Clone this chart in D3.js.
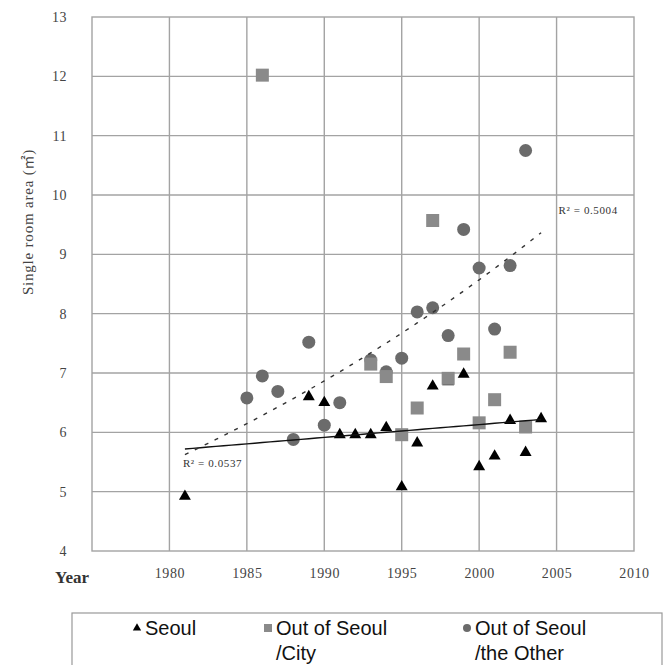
<!DOCTYPE html>
<html>
<head>
<meta charset="utf-8">
<script src="https://cdn.jsdelivr.net/npm/d3@7"></script>
<style>
  html, body { margin: 0; padding: 0; background: #fff; }
  svg { display: block; }
</style>
</head>
<body>
<svg id="chart" width="667" height="665"></svg>
<script>
// ---- Data ----
const seoulYears  = [1981, 1989, 1990, 1991, 1992, 1993, 1994, 1995, 1996, 1997, 1998, 1999, 2000, 2001, 2002, 2003, 2004];
const seoulValues = [4.92, 6.60, 6.50, 5.96, 5.96, 5.96, 6.08, 5.08, 5.82, 6.78, 6.85, 6.98, 5.42, 5.60, 6.20, 5.66, 6.23];

const cityYears   = [1986, 1993, 1994, 1995, 1996, 1997, 1998, 1999, 2000, 2001, 2002, 2003];
const cityValues  = [12.02, 7.15, 6.94, 5.96, 6.41, 9.57, 6.91, 7.32, 6.16, 6.55, 7.35, 6.09];

const otherYears  = [1985, 1986, 1987, 1988, 1989, 1990, 1991, 1993, 1994, 1995, 1996, 1997, 1998, 1999, 2000, 2001, 2002, 2003];
const otherValues = [6.58, 6.95, 6.69, 5.88, 7.52, 6.12, 6.50, 7.22, 7.02, 7.25, 8.03, 8.10, 7.63, 9.42, 8.77, 7.74, 8.81, 10.75];

const trendRange  = [1981, 2004];
const xTicks      = [1980, 1985, 1990, 1995, 2000, 2005, 2010];
const yTicks      = [4, 5, 6, 7, 8, 9, 10, 11, 12, 13];
const r2Labels    = ["R\u00b2 = 0.0537", "R\u00b2 = 0.5004"];
const legendLabels = [["Seoul"], ["Out of Seoul", "/City"], ["Out of Seoul", "/the Other"]];

// ---- Layout ----
const svg = d3.select("#chart");
const x = d3.scaleLinear().domain([1975, 2010]).range([92, 634]);
const y = d3.scaleLinear().domain([4, 13]).range([551, 17]);

const gridColor = "#a3a3a3";

// grid
const g = svg.append("g");
g.selectAll("line.v").data(xTicks.filter(d => d < 2010)).join("line")
  .attr("x1", d => x(d)).attr("x2", d => x(d))
  .attr("y1", y(4)).attr("y2", y(13))
  .attr("stroke", gridColor).attr("stroke-width", 1.4);
g.selectAll("line.h").data(yTicks.filter(d => d > 4 && d < 13)).join("line")
  .attr("x1", x(1975)).attr("x2", x(2010))
  .attr("y1", d => y(d)).attr("y2", d => y(d))
  .attr("stroke", gridColor).attr("stroke-width", 1.4);
g.append("rect")
  .attr("x", x(1975)).attr("y", y(13))
  .attr("width", x(2010) - x(1975)).attr("height", y(4) - y(13))
  .attr("fill", "none").attr("stroke", gridColor).attr("stroke-width", 1.4);

// axes (labels only)
const xAxis = d3.axisBottom(x).tickValues(xTicks).tickSize(0).tickPadding(0).tickFormat(d3.format("d"));
const xa = svg.append("g").attr("transform", `translate(0, ${y(4) + 27})`).call(xAxis);
xa.select(".domain").remove();
xa.selectAll("text").attr("font-family", "Liberation Serif, serif").attr("font-size", 14)
  .attr("fill", "#444").attr("letter-spacing", 0.6).attr("dy", "0");

const yAxis = d3.axisLeft(y).tickValues(yTicks).tickSize(0).tickPadding(0).tickFormat(d3.format("d"));
const ya = svg.append("g").attr("transform", `translate(${x(1975) - 25}, 0)`).call(yAxis);
ya.select(".domain").remove();
ya.selectAll("text").attr("font-family", "Liberation Serif, serif").attr("font-size", 14)
  .attr("fill", "#444").attr("letter-spacing", 0.5);

// axis titles
const yt = svg.append("text")
  .attr("transform", "translate(33, 222) rotate(-90)")
  .attr("text-anchor", "middle")
  .attr("font-family", "Liberation Serif, serif").attr("font-size", 15)
  .attr("fill", "#444").attr("letter-spacing", 0.8);
yt.append("tspan").text("Single room area (");
yt.append("tspan").attr("font-family", "Noto Sans CJK KR, sans-serif").attr("font-size", 14).text("\u33a1");
yt.append("tspan").text(")");
svg.append("text")
  .attr("x", 55).attr("y", 583)
  .attr("font-family", "Liberation Serif, serif").attr("font-size", 17)
  .attr("font-weight", "bold").attr("fill", "#333")
  .text("Year");

// ---- Trend lines ----
function linearFit(xs, ys) {
  const mx = d3.mean(xs), my = d3.mean(ys);
  let sxy = 0, sxx = 0;
  xs.forEach((xv, i) => { sxy += (xv - mx) * (ys[i] - my); sxx += (xv - mx) ** 2; });
  const b = sxy / sxx;
  return t => my + b * (t - mx);
}
function expFit(xs, ys) {
  const lf = linearFit(xs, ys.map(Math.log));
  return t => Math.exp(lf(t));
}
const seoulFit = linearFit(seoulYears, seoulValues);
const otherFit = expFit(otherYears, otherValues);
const trendYears = d3.range(trendRange[0], trendRange[1] + 0.01, 0.5);

const line = d3.line().x(d => x(d[0])).y(d => y(d[1]));

// ---- Markers ----
const pts = svg.append("g");
pts.selectAll("circle.other").data(otherYears.map((d, i) => [d, otherValues[i]])).join("circle")
  .attr("cx", d => x(d[0])).attr("cy", d => y(d[1])).attr("r", 6.5)
  .attr("fill", "#6b6b6b");
pts.selectAll("path.seoul").data(seoulYears.map((d, i) => [d, seoulValues[i]])).join("path")
  .attr("d", d3.symbol(d3.symbolTriangle, 62))
  .attr("transform", d => `translate(${x(d[0])}, ${y(d[1])})`)
  .attr("fill", "#000");
pts.selectAll("rect.city").data(cityYears.map((d, i) => [d, cityValues[i]])).join("rect")
  .attr("x", d => x(d[0]) - 6.5).attr("y", d => y(d[1]) - 6.5)
  .attr("width", 13).attr("height", 13)
  .attr("fill", "#8a8a8a");

svg.append("path")
  .datum(trendYears.map(t => [t, seoulFit(t)]))
  .attr("d", line).attr("fill", "none").attr("stroke", "#111").attr("stroke-width", 1.4);
svg.append("path")
  .datum(trendYears.map(t => [t, otherFit(t)]))
  .attr("d", line).attr("fill", "none").attr("stroke", "#333").attr("stroke-width", 1.4)
  .attr("stroke-dasharray", "4 7");

// R² labels
svg.append("text").attr("x", x(1981) - 2).attr("y", y(seoulFit(1981)) + 18)
  .attr("font-family", "Liberation Serif, serif").attr("font-size", 11)
  .attr("fill", "#333").attr("letter-spacing", 0.6).text(r2Labels[0]);
svg.append("text").attr("x", x(2005) + 2).attr("y", y(otherFit(2004)) - 19)
  .attr("font-family", "Liberation Serif, serif").attr("font-size", 11)
  .attr("fill", "#333").attr("letter-spacing", 0.6).text(r2Labels[1]);

// ---- Legend ----
const lg = svg.append("g");
lg.append("rect").attr("x", 72).attr("y", 613).attr("width", 590).attr("height", 60)
  .attr("fill", "#fff").attr("stroke", "#999").attr("stroke-width", 1.2);
const legendX = [137, 268, 467];
const legendY = 628;
lg.append("path").attr("d", d3.symbol(d3.symbolTriangle, 30)())
  .attr("transform", `translate(${legendX[0]}, ${legendY})`).attr("fill", "#000");
lg.append("rect").attr("x", legendX[1] - 4).attr("y", legendY - 4).attr("width", 8).attr("height", 8)
  .attr("fill", "#8a8a8a");
lg.append("circle").attr("cx", legendX[2]).attr("cy", legendY).attr("r", 4).attr("fill", "#6b6b6b");
legendLabels.forEach((lines, i) => {
  const t = lg.append("text").attr("x", legendX[i] + 8).attr("y", legendY + 7)
    .attr("font-family", "Liberation Sans, Arial, sans-serif").attr("font-size", 20).attr("fill", "#111");
  lines.forEach((s, j) => {
    t.append("tspan").attr("x", legendX[i] + 8).attr("dy", j === 0 ? 0 : 25).text(s);
  });
});
</script>
</body>
</html>
